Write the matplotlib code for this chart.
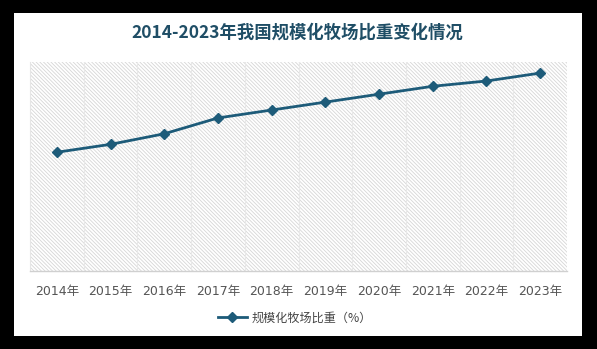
import matplotlib
matplotlib.use("Agg")
import matplotlib.pyplot as plt
from matplotlib.patches import Rectangle

plt.rcParams['font.family'] = ['Noto Sans CJK SC', 'DejaVu Sans']
plt.rcParams['hatch.linewidth'] = 0.6

years = ["2014年", "2015年", "2016年", "2017年", "2018年", "2019年", "2020年", "2021年", "2022年", "2023年"]
values = [45.0, 48.0, 52.0, 58.0, 61.0, 64.0, 67.0, 70.0, 72.0, 75.0]
series_name = "规模化牧场比重（%）"
title = "2014-2023年我国规模化牧场比重变化情况"

W, H = 597, 349
fig = plt.figure(figsize=(W / 100, H / 100), dpi=100)
fig.patch.set_facecolor('black')
fig.add_artist(Rectangle((14 / W, 1 - 336 / H), (582 - 14) / W, (336 - 13) / H,
                         transform=fig.transFigure, facecolor='white', edgecolor='none', zorder=0))

ax = fig.add_axes([30 / W, 1 - 271 / H, (567 - 30) / W, (271 - 62) / H])
ax.patch.set_alpha(0)
x = list(range(len(years)))
ax.set_xlim(-0.5, len(years) - 0.5)
ax.set_ylim(0, 79.2)

ax.add_patch(Rectangle((0, 0), 1, 1, transform=ax.transAxes, facecolor='none',
                       edgecolor='#d6d6d6', linewidth=0, hatch='\\' * 9, zorder=0))
for b in range(1, len(years)):
    ax.axvline(b - 0.5, color='#e8e8e8', lw=0.8, zorder=1)

line_color = '#1d5b79'
ax.plot(x, values, color=line_color, lw=2.0, marker='D', markersize=5.5,
        markerfacecolor=line_color, markeredgecolor=line_color, label=series_name, zorder=3)

for s in ['top', 'right']:
    ax.spines[s].set_visible(False)
ax.spines['left'].set_color('#e6e6e6')
ax.spines['bottom'].set_color('#d0d0d0')
ax.spines['bottom'].set_linewidth(1.0)
ax.set_yticks([])
ax.set_xticks(x)
ax.set_xticklabels(years, fontsize=9, color='#555555', family=['DejaVu Sans', 'Noto Sans CJK SC'])
ax.tick_params(axis='x', length=0, pad=10)

fig.text(297 / W, 1 - 33 / H, title, ha='center', va='center', fontsize=12.5,
         fontweight='bold', color='#1f4e66')

leg = fig.legend(loc='center', bbox_to_anchor=(295 / W, 1 - 318 / H), frameon=False,
                 fontsize=8.7, handlelength=2.4, handletextpad=0.4)
for t in leg.get_texts():
    t.set_color('#444444')

fig.savefig('out.png', dpi=100, facecolor=fig.get_facecolor())
